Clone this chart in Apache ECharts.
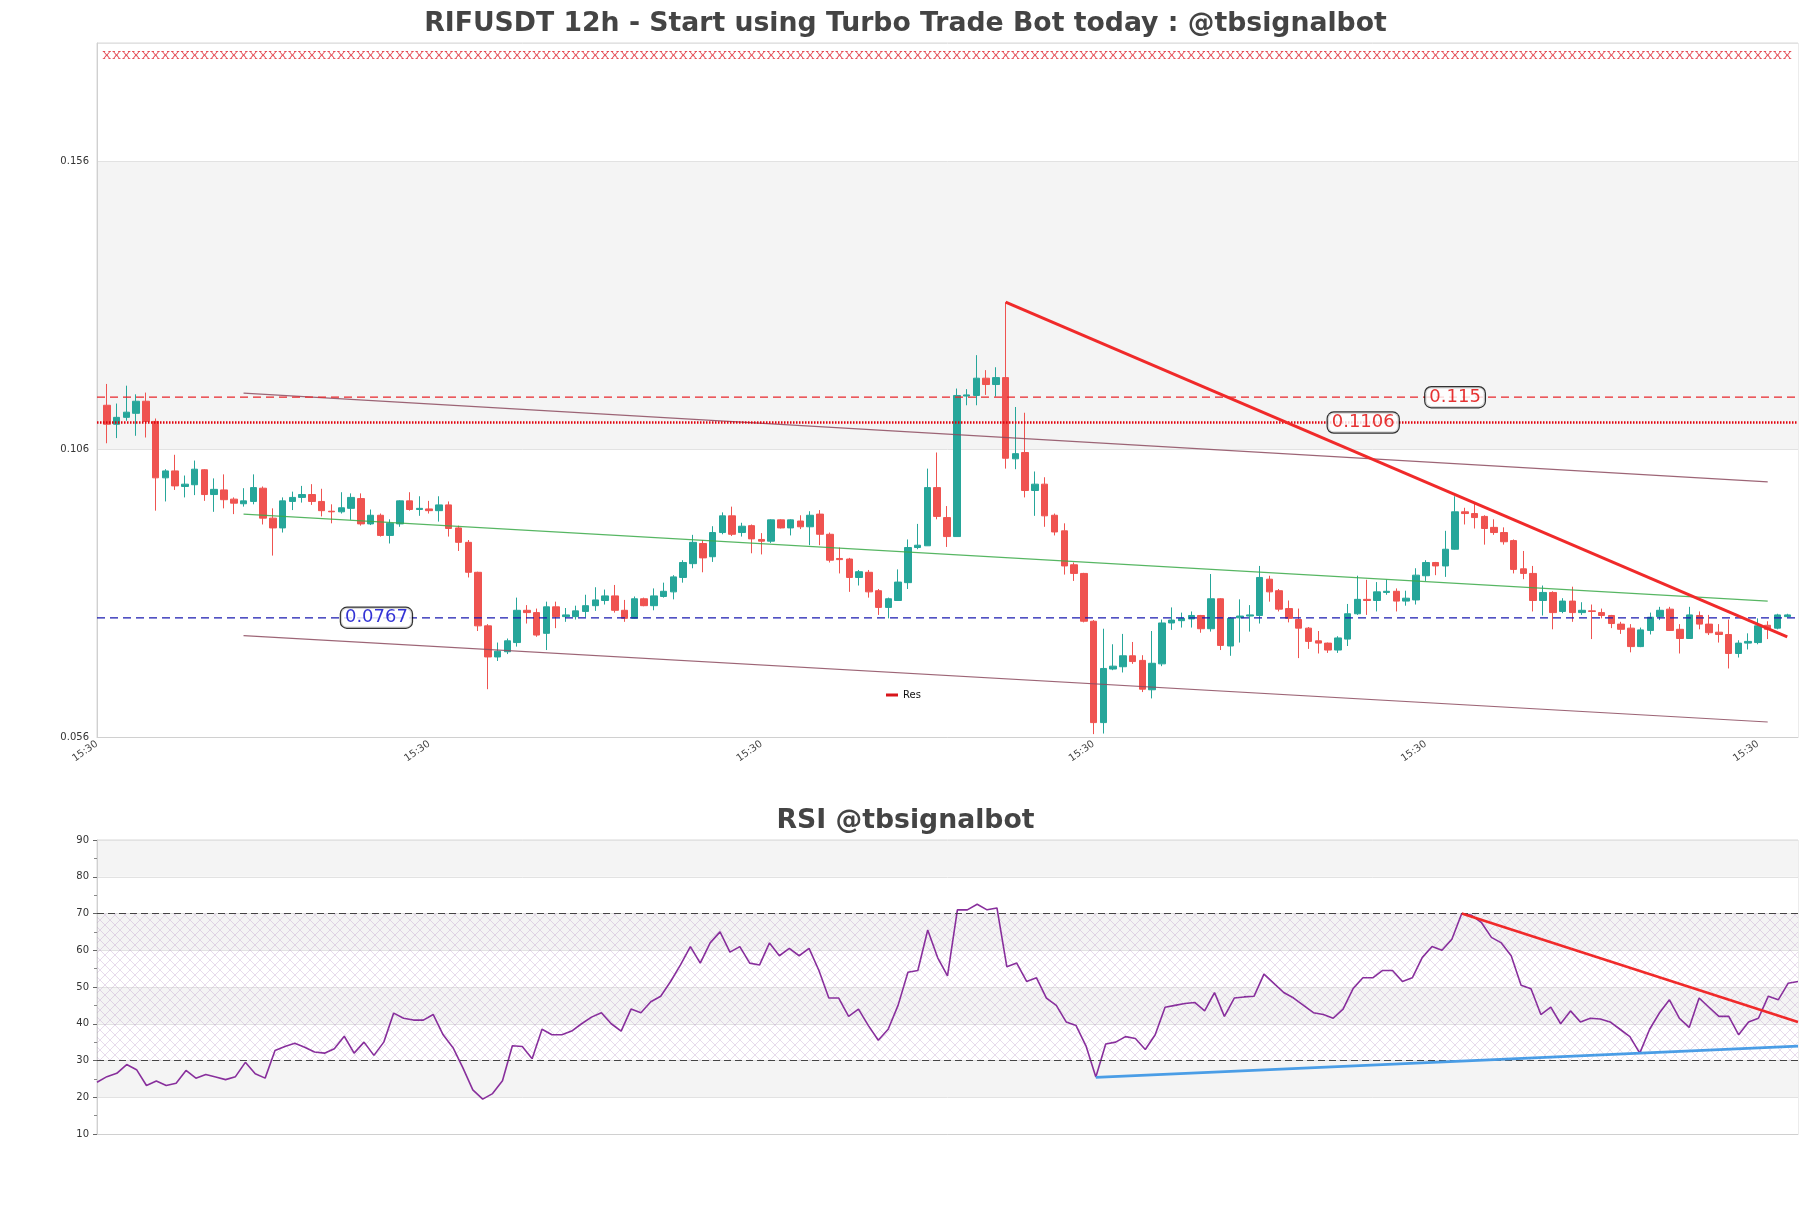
<!DOCTYPE html>
<html><head><meta charset="utf-8">
<script src="https://cdn.jsdelivr.net/npm/echarts@6/dist/echarts.min.js"></script>
<style>html,body{margin:0;padding:0;background:#fff}#c{width:1811px;height:1208px}</style>
</head><body><div id="c"></div>
<script>
// ---------- data ----------
const opens = [0.1136,0.1103,0.1115,0.1122,0.1143,0.1108,0.1010,0.1022,0.0995,0.0998,0.1024,0.0981,0.0989,0.0973,0.0965,0.0969,0.0992,0.0940,0.0923,0.0969,0.0976,0.0981,0.0969,0.0952,0.0951,0.0957,0.0974,0.0930,0.0945,0.0910,0.0930,0.0970,0.0955,0.0956,0.0953,0.0963,0.0923,0.0898,0.0846,0.0753,0.0699,0.0708,0.0724,0.0780,0.0776,0.0740,0.0786,0.0769,0.0769,0.0778,0.0788,0.0797,0.0805,0.0780,0.0766,0.0800,0.0788,0.0804,0.0812,0.0837,0.0861,0.0896,0.0873,0.0915,0.0944,0.0915,0.0927,0.0903,0.0900,0.0937,0.0923,0.0935,0.0925,0.0947,0.0912,0.0870,0.0869,0.0837,0.0846,0.0814,0.0785,0.0797,0.0828,0.0889,0.0892,0.0993,0.0941,0.0908,0.1152,0.1153,0.1183,0.1172,0.1184,0.1043,0.1054,0.0988,0.0999,0.0945,0.0918,0.0859,0.0844,0.0761,0.0585,0.0678,0.0682,0.0701,0.0693,0.0642,0.0687,0.0758,0.0762,0.0765,0.0771,0.0748,0.0800,0.0718,0.0767,0.0770,0.0771,0.0834,0.0814,0.0783,0.0764,0.0749,0.0727,0.0723,0.0711,0.0730,0.0774,0.0799,0.0797,0.0811,0.0813,0.0796,0.0798,0.0840,0.0863,0.0857,0.0886,0.0951,0.0948,0.0943,0.0924,0.0915,0.0901,0.0852,0.0844,0.0797,0.0811,0.0778,0.0796,0.0776,0.0779,0.0776,0.0771,0.0756,0.0749,0.0717,0.0745,0.0769,0.0782,0.0747,0.0731,0.0771,0.0756,0.0742,0.0738,0.0705,0.0723,0.0724,0.0754,0.0749,0.0769];
const closes = [0.1103,0.1115,0.1124,0.1143,0.1108,0.1010,0.1022,0.0996,0.0999,0.1025,0.0981,0.0990,0.0972,0.0966,0.0970,0.0993,0.0940,0.0923,0.0970,0.0976,0.0981,0.0969,0.0953,0.0951,0.0958,0.0976,0.0930,0.0945,0.0910,0.0931,0.0970,0.0955,0.0957,0.0953,0.0963,0.0922,0.0898,0.0846,0.0753,0.0699,0.0709,0.0727,0.0780,0.0776,0.0737,0.0786,0.0769,0.0772,0.0779,0.0788,0.0798,0.0805,0.0780,0.0766,0.0800,0.0788,0.0805,0.0813,0.0838,0.0863,0.0898,0.0871,0.0915,0.0944,0.0912,0.0926,0.0904,0.0900,0.0937,0.0923,0.0937,0.0925,0.0945,0.0912,0.0867,0.0868,0.0837,0.0847,0.0812,0.0785,0.0800,0.0829,0.0889,0.0893,0.0993,0.0943,0.0908,0.1153,0.1154,0.1183,0.1172,0.1184,0.1044,0.1052,0.0988,0.0999,0.0944,0.0916,0.0857,0.0844,0.0761,0.0585,0.0679,0.0683,0.0701,0.0691,0.0643,0.0688,0.0758,0.0763,0.0766,0.0771,0.0748,0.0800,0.0719,0.0766,0.0770,0.0772,0.0837,0.0812,0.0782,0.0766,0.0749,0.0726,0.0723,0.0711,0.0732,0.0774,0.0799,0.0797,0.0812,0.0813,0.0796,0.0801,0.0841,0.0863,0.0857,0.0886,0.0951,0.0948,0.0941,0.0922,0.0915,0.0899,0.0851,0.0844,0.0797,0.0811,0.0776,0.0796,0.0776,0.0780,0.0778,0.0771,0.0757,0.0747,0.0717,0.0746,0.0768,0.0780,0.0745,0.0731,0.0772,0.0756,0.0741,0.0738,0.0705,0.0723,0.0726,0.0753,0.0747,0.0772,0.0772];
const lows = [0.1070,0.1079,0.1109,0.1083,0.1080,0.0953,0.0969,0.0989,0.0976,0.0980,0.0970,0.0951,0.0957,0.0947,0.0960,0.0964,0.0929,0.0875,0.0915,0.0954,0.0967,0.0963,0.0943,0.0931,0.0948,0.0937,0.0927,0.0928,0.0908,0.0896,0.0925,0.0953,0.0944,0.0948,0.0934,0.0908,0.0883,0.0837,0.0744,0.0643,0.0692,0.0704,0.0717,0.0757,0.0734,0.0711,0.0749,0.0760,0.0764,0.0768,0.0779,0.0790,0.0776,0.0760,0.0765,0.0787,0.0780,0.0802,0.0799,0.0828,0.0853,0.0846,0.0864,0.0912,0.0909,0.0908,0.0879,0.0877,0.0897,0.0922,0.0910,0.0921,0.0893,0.0893,0.0863,0.0844,0.0812,0.0823,0.0802,0.0772,0.0766,0.0797,0.0817,0.0886,0.0892,0.0938,0.0890,0.0908,0.1136,0.1136,0.1154,0.1151,0.1026,0.1025,0.0976,0.0944,0.0925,0.0910,0.0842,0.0831,0.0759,0.0565,0.0566,0.0676,0.0672,0.0687,0.0638,0.0627,0.0683,0.0746,0.0750,0.0750,0.0741,0.0743,0.0711,0.0701,0.0724,0.0743,0.0757,0.0795,0.0778,0.0759,0.0697,0.0713,0.0705,0.0706,0.0706,0.0718,0.0772,0.0772,0.0778,0.0807,0.0778,0.0788,0.0790,0.0831,0.0841,0.0838,0.0885,0.0929,0.0922,0.0894,0.0911,0.0894,0.0844,0.0834,0.0778,0.0771,0.0747,0.0775,0.0760,0.0772,0.0730,0.0766,0.0749,0.0739,0.0707,0.0716,0.0738,0.0763,0.0744,0.0705,0.0731,0.0747,0.0737,0.0724,0.0679,0.0698,0.0712,0.0721,0.0730,0.0747,0.0768];
const highs = [0.1173,0.1139,0.1170,0.1155,0.1158,0.1113,0.1025,0.1050,0.1014,0.1040,0.1025,0.1009,0.1016,0.0976,0.0992,0.1016,0.0995,0.0957,0.0976,0.0986,0.0996,0.0999,0.0991,0.0964,0.0985,0.0983,0.0983,0.0955,0.0948,0.0938,0.0971,0.0985,0.0978,0.0970,0.0978,0.0969,0.0927,0.0902,0.0847,0.0756,0.0724,0.0731,0.0802,0.0789,0.0783,0.0795,0.0795,0.0784,0.0788,0.0807,0.0820,0.0816,0.0824,0.0798,0.0804,0.0802,0.0818,0.0828,0.0841,0.0867,0.0911,0.0902,0.0926,0.0950,0.0960,0.0932,0.0929,0.0914,0.0938,0.0938,0.0938,0.0945,0.0952,0.0954,0.0915,0.0889,0.0871,0.0850,0.0850,0.0817,0.0802,0.0851,0.0903,0.0930,0.1026,0.1054,0.0961,0.1165,0.1164,0.1223,0.1197,0.1202,0.1315,0.1133,0.1123,0.1021,0.1011,0.0948,0.0931,0.0863,0.0845,0.0763,0.0748,0.0721,0.0739,0.0725,0.0702,0.0744,0.0764,0.0785,0.0776,0.0778,0.0772,0.0843,0.0801,0.0768,0.0799,0.0789,0.0857,0.0840,0.0817,0.0797,0.0783,0.0751,0.0744,0.0724,0.0735,0.0791,0.0840,0.0833,0.0829,0.0833,0.0818,0.0814,0.0853,0.0867,0.0864,0.0918,0.0978,0.0958,0.0966,0.0945,0.0938,0.0924,0.0903,0.0883,0.0857,0.0823,0.0813,0.0801,0.0821,0.0794,0.0790,0.0783,0.0772,0.0760,0.0756,0.0750,0.0776,0.0786,0.0786,0.0756,0.0786,0.0778,0.0772,0.0756,0.0764,0.0728,0.0740,0.0766,0.0761,0.0774,0.0774];
const rsi = [24.1,25.6,26.5,28.9,27.5,23.2,24.4,23.2,23.8,27.3,25.2,26.2,25.5,24.8,25.6,29.5,26.4,25.2,32.7,33.8,34.7,33.6,32.3,32.0,33.2,36.6,32.0,35.0,31.4,35.0,42.9,
 41.5,41,41,42.5,37,33.5,28,22,19.5,21,
 24.5,34,33.8,30.5,38.5,37,37,38,40,41.8,
 43,40,38,44,43,46,47.5,51.5,56,61,
 56.5,62,65,59.5,61,56.5,56,62,58.5,60.5,
 58.5,60.5,54.5,47,47,42,44,39.5,35.5,38.5,
 45,54,54.5,65.5,58,53,71,71,72.5,71,
 71.5,55.5,56.5,51.5,52.5,47,45,40.5,39.5,34,
 25.5,34.5,35,36.5,36,33,37,44.5,45,45.5,
 45.8,43.5,48.5,42,47,47.3,47.5,53.5,51,48.5,
 47,45,43,42.5,41.5,44,49.5,52.5,52.5,54.5,
 54.5,51.5,52.5,58,61,60,63,70,69.5,67.5,
 63.5,62,58.5,50.5,49.5,42.5,44.5,40,43.5,40.5,
 41.5,41.3,40.5,38.5,36.5,32,38.5,43,46.5,41.5,
 39,47,44.5,42,42,37,40.5,41.5,47.5,46.5,
 51,51.5];
const xTickLabels = ['15:30','15:30','15:30','15:30','15:30','15:30'];
const levelValues = [0.115, 0.1106, 0.0767];
const levelLabels = ['0.115', '0.1106', '0.0767'];
const signalLevel = 0.1744;
// trend lines as [candle index, value]
const resLine = [[92, 0.1315], [172, 0.0734]];
const channelUpper = [[14, 0.1157], [170, 0.1003]];
const channelMid = [[14, 0.0947], [170, 0.0796]];
const channelLower = [[14, 0.0736], [170, 0.0586]];
const rsiRes = [[138, 70], [172, 40.5]];
const rsiSup = [[101, 25.4], [172, 33.9]];

// ---------- chart ----------
const FONT = 'DejaVu Sans';
const UP = '#26a69a', DOWN = '#ef5350';
const candleData = opens.map((o, i) => [i + 1, o, closes[i], lows[i], highs[i]]);
const shift = pts => pts.map(p => [p[0] + 1, p[1]]);
const XMAX = 174.1;
const labelX = [139.0, 129.6, 28.6];
const labelColors = ['#e00000', '#e00000', '#0000cc'];

// hatch pattern for RSI mid zone
const pat = document.createElement('canvas');
pat.width = 10; pat.height = 10;
const pc = pat.getContext('2d');
pc.strokeStyle = 'rgba(180,140,195,0.45)';
pc.lineWidth = 0.7;
pc.beginPath(); pc.moveTo(0, 0); pc.lineTo(10, 10); pc.moveTo(10, 0); pc.lineTo(0, 10); pc.stroke();

const chart = echarts.init(document.getElementById('c'), null, {renderer: 'canvas'});
const option = {
  backgroundColor: '#ffffff',
  animation: false,
  textStyle: {fontFamily: FONT},
  title: [
    {text: 'RIFUSDT 12h - Start using Turbo Trade Bot today : @tbsignalbot', left: 'center', top: 6,
     textStyle: {fontFamily: FONT, fontSize: 26.7, fontWeight: 'bold', color: '#444'}},
    {text: 'RSI @tbsignalbot', left: 'center', top: 803,
     textStyle: {fontFamily: FONT, fontSize: 26.7, fontWeight: 'bold', color: '#444'}}
  ],
  legend: {
    data: ['Res'], left: 881, top: 685, icon: 'rect', itemWidth: 12, itemHeight: 3, itemGap: 6,
    textStyle: {fontFamily: FONT, fontSize: 10, color: '#111'}
  },
  grid: [
    {left: 97, top: 43, width: 1701, height: 694, show: true, borderColor: '#d9d9d9', borderWidth: 1, backgroundColor: 'transparent'},
    {left: 97, top: 840, width: 1701, height: 294, show: true, borderColor: '#d9d9d9', borderWidth: 1, backgroundColor: 'transparent'}
  ],
  xAxis: [
    {type: 'value', gridIndex: 0, min: 0, max: XMAX, interval: 34,
     axisLine: {show: true, lineStyle: {color: '#d0d0d0'}}, axisTick: {show: false},
     splitLine: {show: false},
     axisLabel: {rotate: 35, fontSize: 10, color: '#444', margin: 6, showMaxLabel: false,
                 formatter: (v) => { const k = Math.round(v / 34); return (Math.abs(v - k * 34) < 1e-6 && k < xTickLabels.length) ? xTickLabels[k] : ''; }}},
    {type: 'value', gridIndex: 1, min: 0, max: rsi.length - 1,
     axisLine: {show: true, lineStyle: {color: '#d0d0d0'}}, axisTick: {show: false},
     splitLine: {show: false}, axisLabel: {show: false}}
  ],
  yAxis: [
    {type: 'value', gridIndex: 0, min: 0.056, max: 0.1765, interval: 0.05,
     axisLine: {show: true, lineStyle: {color: '#d0d0d0'}}, axisTick: {show: false},
     axisLabel: {fontSize: 10, color: '#333', showMaxLabel: false, formatter: v => v.toFixed(3)},
     splitLine: {show: true, lineStyle: {color: '#e2e2e2'}},
     splitArea: {show: true, areaStyle: {color: ['#ffffff', '#f4f4f4']}}},
    {type: 'value', gridIndex: 1, min: 10, max: 90, interval: 10,
     axisLine: {show: true, lineStyle: {color: '#d0d0d0'}},
     axisTick: {show: true, length: 4, lineStyle: {color: '#666'}},
     minorTick: {show: true, splitNumber: 2, length: 3, lineStyle: {color: '#888'}},
     axisLabel: {fontSize: 10, color: '#333'},
     splitLine: {show: true, lineStyle: {color: '#e2e2e2'}},
     splitArea: {show: true, areaStyle: {color: ['#ffffff', '#f4f4f4']}}}
  ],
  series: [
    {name: 'candles', type: 'candlestick', xAxisIndex: 0, yAxisIndex: 0, barWidth: 7,
     encode: {x: 0, y: [1, 2, 3, 4]},
     itemStyle: {color: UP, color0: DOWN, borderColor: UP, borderColor0: DOWN, borderWidth: 1},
     data: candleData, z: 3},
    {name: 'signals', type: 'scatter', xAxisIndex: 0, yAxisIndex: 0,
     symbol: 'path://M0,0L3,0L3,1L2.2,1L5,4.2L7.8,1L7,1L7,0L10,0L10,1L9,1L6,5L9,9L10,9L10,10L7,10L7,9L7.8,9L5,5.8L2.2,9L3,9L3,10L0,10L0,9L1,9L4,5L1,1L0,1Z',
     symbolSize: [8, 8], itemStyle: {color: '#dd1f2a'},
     data: opens.map((o, i) => [i + 1, signalLevel]), z: 4},
    {name: 'upper', type: 'line', xAxisIndex: 0, yAxisIndex: 0, symbol: 'none', data: shift(channelUpper),
     lineStyle: {color: '#8c4a5e', width: 1.2, opacity: 0.85}, z: 4},
    {name: 'mid', type: 'line', xAxisIndex: 0, yAxisIndex: 0, symbol: 'none', data: shift(channelMid),
     lineStyle: {color: '#3aa948', width: 1.1, opacity: 0.85}, z: 4},
    {name: 'lower', type: 'line', xAxisIndex: 0, yAxisIndex: 0, symbol: 'none', data: shift(channelLower),
     lineStyle: {color: '#8c4a5e', width: 1.2, opacity: 0.85}, z: 4},
    {name: 'lvl115', type: 'line', xAxisIndex: 0, yAxisIndex: 0, symbol: 'none',
     data: [[0, levelValues[0]], [XMAX, levelValues[0]]],
     lineStyle: {color: '#e8262b', width: 1.2, type: [8, 5]}, z: 5},
    {name: 'lvl1106', type: 'line', xAxisIndex: 0, yAxisIndex: 0, symbol: 'none',
     data: [[0, levelValues[1]], [XMAX, levelValues[1]]],
     lineStyle: {color: '#e0000b', width: 2.6, type: [1.5, 1.5]}, z: 5},
    {name: 'lvl0767', type: 'line', xAxisIndex: 0, yAxisIndex: 0, symbol: 'none',
     data: [[0, levelValues[2]], [XMAX, levelValues[2]]],
     lineStyle: {color: '#1a1ab0', width: 1.2, type: [8, 5]}, z: 5},
    {name: 'Res', type: 'line', xAxisIndex: 0, yAxisIndex: 0, symbol: 'none', data: shift(resLine),
     itemStyle: {color: '#d8151b'},
     lineStyle: {color: '#f02a2a', width: 3}, z: 6},
    {name: 'levelLabels', type: 'scatter', xAxisIndex: 0, yAxisIndex: 0, symbolSize: 0, z: 7,
     data: levelValues.map((v, k) => ({value: [labelX[k], v], label: {color: labelColors[k]}})),
     label: {show: true, position: 'inside', fontFamily: FONT, fontSize: 18,
       backgroundColor: '#fff', borderColor: '#000', borderWidth: 1.2, borderRadius: 6, padding: [2, 4, 0, 4],
       formatter: p => levelLabels[p.dataIndex]},
     itemStyle: {color: 'transparent'},
     labelLayout: {hideOverlap: false},
     emphasis: {disabled: true}},
    // RSI panel
    {name: 'rsiZone', type: 'line', xAxisIndex: 1, yAxisIndex: 1, symbol: 'none', data: [],
     markArea: {silent: true, itemStyle: {color: {image: pat, repeat: 'repeat'}},
       data: [[{yAxis: 30}, {yAxis: 70}]]},
     markLine: {silent: true, symbol: 'none', label: {show: false},
       lineStyle: {color: '#444', type: [7, 4], width: 1.1},
       data: [{yAxis: 30}, {yAxis: 70}]}, z: 2},
    {name: 'RSI', type: 'line', xAxisIndex: 1, yAxisIndex: 1, symbol: 'none',
     data: rsi.map((v, j) => [j, v]),
     lineStyle: {color: '#882f9c', width: 1.6}, z: 4},
    {name: 'rsiRes', type: 'line', xAxisIndex: 1, yAxisIndex: 1, symbol: 'none', data: rsiRes,
     lineStyle: {color: '#f02a2a', width: 2.6}, z: 5},
    {name: 'rsiSup', type: 'line', xAxisIndex: 1, yAxisIndex: 1, symbol: 'none', data: rsiSup,
     lineStyle: {color: '#4a9de6', width: 2.6}, z: 5}
  ]
};
chart.setOption(option);
</script>
</body></html>
